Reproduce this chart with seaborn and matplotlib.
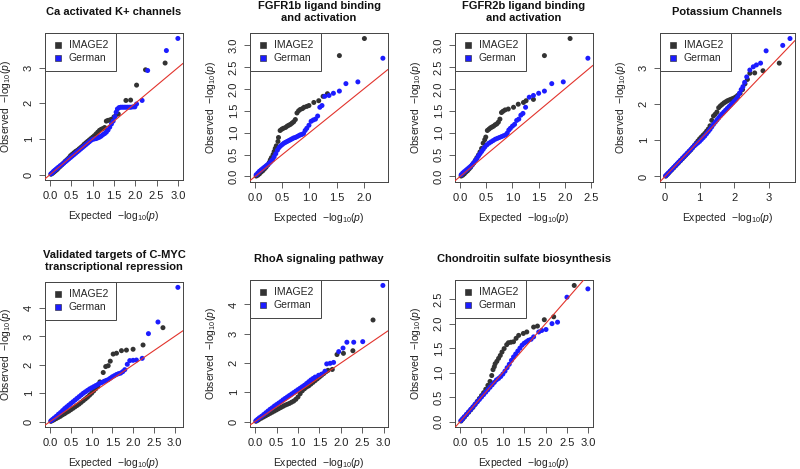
"""
QQ plots of pathway-level SNP p-values, IMAGE2 vs German cohort.
Run:
    python plot.py
"""

import numpy as np
import pandas as pd
import matplotlib
matplotlib.use("Agg")
import matplotlib.pyplot as plt
from matplotlib.lines import Line2D
import seaborn as sns

# ─────────────────────────────────────────────
#  DATA  (expected / observed -log10(p))
# ─────────────────────────────────────────────

TITLES = [
    "Ca activated K+ channels",
    "FGFR1b ligand binding\nand activation",
    "FGFR2b ligand binding\nand activation",
    "Potassium Channels",
    "Validated targets of C-MYC\ntranscriptional repression",
    "RhoA signaling pathway",
    "Chondroitin sulfate biosynthesis",
]
COHORTS = ["IMAGE2", "German"]

# Ca activated K+ channels
ca_img_x = [0.02, 0.05, 0.08, 0.11, 0.14, 0.17, 0.2, 0.24, 0.28, 0.32, 0.36, 0.4, 0.44, 0.48, 0.52, 0.56,
            0.6, 0.64, 0.68, 0.72, 0.76, 0.8, 0.84, 0.88, 0.92, 0.96, 1.0, 1.04, 1.08, 1.12, 1.16, 1.2,
            1.24, 1.28, 1.32, 1.36, 1.40, 1.44, 1.5, 1.56, 1.6, 1.78, 1.89, 2.03, 2.24, 2.70]
ca_img_y = [0.01, 0.03, 0.06, 0.09, 0.12, 0.15, 0.19, 0.23, 0.28, 0.33, 0.38, 0.42, 0.47, 0.53, 0.57, 0.61,
            0.65, 0.68, 0.72, 0.76, 0.80, 0.85, 0.89, 0.93, 0.97, 1.01, 1.05, 1.09, 1.14, 1.19, 1.24, 1.27,
            1.29, 1.32, 1.50, 1.52, 1.53, 1.55, 1.62, 1.69, 1.70, 2.08, 2.09, 2.51, 2.94, 3.13]
ca_ger_x = [0.02, 0.05, 0.08, 0.11, 0.14, 0.17, 0.2, 0.24, 0.28, 0.32, 0.36, 0.4, 0.44, 0.48, 0.52, 0.56,
            0.6, 0.64, 0.68, 0.72, 0.76, 0.8, 0.84, 0.88, 0.92, 0.96, 1.0, 1.04, 1.08, 1.12, 1.16, 1.2,
            1.24, 1.28, 1.32, 1.36, 1.40, 1.44, 1.48, 1.52, 1.55, 1.58, 1.62, 1.66, 1.70, 1.74, 1.78, 1.82,
            1.86, 1.90, 1.95, 1.99, 2.03, 2.16, 2.29, 2.73, 3.0]
ca_ger_y = [0.02, 0.05, 0.09, 0.12, 0.15, 0.18, 0.21, 0.25, 0.28, 0.32, 0.36, 0.40, 0.44, 0.48, 0.52, 0.56,
            0.60, 0.64, 0.68, 0.72, 0.76, 0.80, 0.84, 0.88, 0.92, 0.96, 0.99, 1.00, 1.01, 1.03, 1.05, 1.08,
            1.12, 1.15, 1.19, 1.25, 1.33, 1.42, 1.50, 1.62, 1.75, 1.84, 1.88, 1.89, 1.89, 1.89, 1.89, 1.89,
            1.89, 1.89, 1.90, 1.90, 1.98, 2.08, 2.92, 3.48, 3.82]

# FGFR1b ligand binding and activation
f1_img_x = [0.02, 0.05, 0.08, 0.11, 0.14, 0.17, 0.2, 0.23, 0.26, 0.28, 0.30, 0.33, 0.35, 0.37, 0.39, 0.42,
            0.43, 0.46, 0.49, 0.52, 0.56, 0.59, 0.62, 0.65, 0.68, 0.71, 0.74, 0.77, 0.80, 0.83, 0.87, 0.90,
            0.95, 0.99, 1.08, 1.17, 1.25, 1.33, 1.55, 2.01]
f1_img_y = [0.01, 0.03, 0.06, 0.10, 0.13, 0.17, 0.21, 0.26, 0.32, 0.38, 0.43, 0.50, 0.57, 0.64, 0.70, 0.80,
            0.89, 1.05, 1.08, 1.10, 1.12, 1.15, 1.17, 1.19, 1.22, 1.25, 1.30, 1.45, 1.50, 1.53, 1.55, 1.58,
            1.60, 1.62, 1.69, 1.73, 1.83, 1.89, 2.76, 3.15]
f1_ger_x = [0.02, 0.05, 0.08, 0.11, 0.14, 0.17, 0.2, 0.23, 0.26, 0.29, 0.32, 0.35, 0.38, 0.41, 0.44, 0.47,
            0.5, 0.53, 0.56, 0.59, 0.62, 0.65, 0.68, 0.71, 0.74, 0.77, 0.80, 0.83, 0.86, 0.89, 0.92, 0.95,
            0.99, 1.03, 1.07, 1.11, 1.15, 1.19, 1.23, 1.28, 1.36, 1.44, 1.55, 1.67, 1.89, 2.35]
f1_ger_y = [0.04, 0.08, 0.12, 0.15, 0.18, 0.21, 0.24, 0.27, 0.30, 0.34, 0.38, 0.45, 0.52, 0.60, 0.66, 0.70,
            0.73, 0.76, 0.78, 0.80, 0.82, 0.84, 0.86, 0.88, 0.89, 0.91, 0.93, 0.95, 0.96, 0.98, 1.05, 1.10,
            1.17, 1.26, 1.29, 1.31, 1.38, 1.58, 1.62, 1.83, 1.85, 1.90, 1.95, 2.12, 2.16, 2.70]

# FGFR2b ligand binding and activation
f2_img_x = [0.02, 0.05, 0.08, 0.11, 0.14, 0.17, 0.2, 0.23, 0.26, 0.29, 0.32, 0.35, 0.38, 0.41, 0.44, 0.47,
            0.49, 0.52, 0.55, 0.58, 0.61, 0.64, 0.67, 0.70, 0.73, 0.76, 0.79, 0.82, 0.86, 0.92, 1.02, 1.11,
            1.21, 1.26, 1.40, 1.61, 2.10]
f2_img_y = [0.01, 0.03, 0.06, 0.10, 0.13, 0.17, 0.21, 0.26, 0.31, 0.37, 0.43, 0.49, 0.56, 0.64, 0.76, 0.84,
            0.90, 1.05, 1.08, 1.11, 1.13, 1.15, 1.18, 1.20, 1.24, 1.31, 1.46, 1.49, 1.52, 1.54, 1.58, 1.65,
            1.69, 1.73, 1.76, 2.76, 3.15]
f2_ger_x = [0.02, 0.05, 0.08, 0.11, 0.14, 0.17, 0.2, 0.23, 0.26, 0.29, 0.32, 0.35, 0.38, 0.41, 0.44, 0.47,
            0.51, 0.55, 0.59, 0.63, 0.67, 0.71, 0.75, 0.79, 0.83, 0.87, 0.90, 0.93, 0.96, 1.0, 1.04, 1.08,
            1.12, 1.16, 1.20, 1.25, 1.32, 1.40, 1.50, 1.61, 1.75, 1.97, 2.44]
f2_ger_y = [0.04, 0.08, 0.11, 0.14, 0.17, 0.20, 0.23, 0.27, 0.31, 0.36, 0.41, 0.47, 0.52, 0.57, 0.62, 0.67,
            0.72, 0.76, 0.79, 0.82, 0.85, 0.87, 0.89, 0.91, 0.93, 0.95, 0.99, 1.06, 1.10, 1.15, 1.19, 1.28,
            1.31, 1.40, 1.44, 1.58, 1.81, 1.85, 1.90, 1.95, 2.12, 2.16, 2.70]

# Potassium Channels
k_img_x = [0.02, 0.06, 0.10, 0.15, 0.2, 0.25, 0.3, 0.35, 0.4, 0.45, 0.5, 0.55, 0.6, 0.65, 0.7, 0.75, 0.8,
           0.85, 0.9, 0.95, 1.0, 1.05, 1.1, 1.15, 1.2, 1.25, 1.3, 1.35, 1.4, 1.45, 1.5, 1.55, 1.6, 1.65,
           1.7, 1.75, 1.8, 1.85, 1.9, 1.95, 2.0, 2.05, 2.1, 2.17, 2.24, 2.31, 2.38, 2.45, 2.59, 2.83, 3.30]
k_img_y = [0.01, 0.05, 0.09, 0.14, 0.19, 0.24, 0.29, 0.34, 0.39, 0.44, 0.49, 0.54, 0.59, 0.64, 0.69, 0.74,
           0.80, 0.86, 0.92, 0.98, 1.04, 1.09, 1.14, 1.19, 1.25, 1.31, 1.40, 1.55, 1.67, 1.72, 1.78, 1.90,
           1.95, 1.99, 2.03, 2.06, 2.09, 2.11, 2.13, 2.15, 2.17, 2.20, 2.24, 2.30, 2.40, 2.56, 2.68, 2.85,
           2.86, 2.92, 3.13]
k_ger_x = [0.02, 0.06, 0.10, 0.15, 0.2, 0.25, 0.3, 0.35, 0.4, 0.45, 0.5, 0.55, 0.6, 0.65, 0.7, 0.75, 0.8,
           0.85, 0.9, 0.95, 1.0, 1.05, 1.1, 1.15, 1.2, 1.25, 1.3, 1.35, 1.4, 1.45, 1.5, 1.55, 1.6, 1.65,
           1.7, 1.75, 1.8, 1.85, 1.9, 1.95, 2.0, 2.05, 2.1, 2.15, 2.2, 2.25, 2.3, 2.36, 2.45, 2.55, 2.64,
           2.76, 2.92, 3.40, 3.61]
k_ger_y = [0.02, 0.06, 0.10, 0.15, 0.2, 0.25, 0.3, 0.35, 0.4, 0.45, 0.5, 0.55, 0.6, 0.65, 0.7, 0.75, 0.8,
           0.85, 0.89, 0.93, 0.97, 1.02, 1.07, 1.12, 1.18, 1.24, 1.30, 1.37, 1.44, 1.50, 1.56, 1.62, 1.68,
           1.73, 1.78, 1.83, 1.88, 1.93, 1.98, 2.03, 2.08, 2.13, 2.20, 2.30, 2.40, 2.48, 2.60, 2.75, 2.94,
           3.03, 3.08, 3.13, 3.47, 3.62, 3.81]

# Validated targets of C-MYC transcriptional repression
myc_img_x = [0.02, 0.06, 0.10, 0.15, 0.2, 0.25, 0.3, 0.35, 0.4, 0.45, 0.5, 0.55, 0.6, 0.65, 0.7, 0.75, 0.8,
             0.85, 0.9, 0.95, 1.0, 1.05, 1.1, 1.15, 1.2, 1.28, 1.34, 1.40, 1.45, 1.52, 1.60, 1.72, 1.84,
             2.00, 2.24, 2.72]
myc_img_y = [0.01, 0.04, 0.07, 0.11, 0.15, 0.19, 0.24, 0.28, 0.33, 0.37, 0.42, 0.47, 0.52, 0.57, 0.62, 0.68,
             0.74, 0.80, 0.86, 0.93, 1.00, 1.08, 1.16, 1.24, 1.40, 1.73, 1.94, 1.97, 2.13, 2.38, 2.41, 2.50,
             2.52, 2.55, 2.70, 3.31]
myc_ger_x = [0.02, 0.06, 0.10, 0.15, 0.2, 0.25, 0.3, 0.35, 0.4, 0.45, 0.5, 0.55, 0.6, 0.65, 0.7, 0.75, 0.8,
             0.85, 0.9, 0.95, 1.0, 1.05, 1.1, 1.15, 1.2, 1.25, 1.3, 1.35, 1.4, 1.45, 1.5, 1.55, 1.6, 1.65,
             1.7, 1.75, 1.8, 1.86, 1.92, 2.0, 2.08, 2.22, 2.37, 2.60, 3.08]
myc_ger_y = [0.03, 0.08, 0.13, 0.19, 0.26, 0.32, 0.39, 0.46, 0.52, 0.58, 0.64, 0.70, 0.76, 0.82, 0.88, 0.94,
             1.00, 1.05, 1.10, 1.15, 1.19, 1.23, 1.27, 1.31, 1.35, 1.38, 1.42, 1.45, 1.48, 1.53, 1.58, 1.62,
             1.66, 1.69, 1.71, 1.76, 1.83, 2.02, 2.15, 2.16, 2.17, 2.23, 3.10, 3.51, 4.73]

# RhoA signaling pathway
rho_img_x = [0.02, 0.06, 0.10, 0.15, 0.2, 0.25, 0.3, 0.35, 0.4, 0.45, 0.5, 0.55, 0.6, 0.65, 0.7, 0.75, 0.8,
             0.85, 0.9, 0.95, 1.0, 1.05, 1.1, 1.15, 1.2, 1.25, 1.3, 1.35, 1.4, 1.45, 1.5, 1.55, 1.6, 1.65,
             1.70, 1.80, 1.91, 2.06, 2.28, 2.75]
rho_img_y = [0.01, 0.04, 0.08, 0.12, 0.16, 0.20, 0.24, 0.28, 0.32, 0.36, 0.40, 0.44, 0.48, 0.52, 0.56, 0.59,
             0.62, 0.66, 0.70, 0.76, 0.84, 0.95, 1.05, 1.12, 1.18, 1.22, 1.28, 1.34, 1.40, 1.46, 1.52, 1.58,
             1.64, 1.70, 1.75, 1.78, 2.29, 2.33, 2.42, 3.47]
rho_ger_x = [0.02, 0.06, 0.10, 0.15, 0.2, 0.25, 0.3, 0.35, 0.4, 0.45, 0.5, 0.55, 0.6, 0.65, 0.7, 0.75, 0.8,
             0.85, 0.9, 0.95, 1.0, 1.05, 1.1, 1.15, 1.2, 1.25, 1.3, 1.35, 1.40, 1.48, 1.55, 1.63, 1.67, 1.75,
             1.83, 1.95, 2.05, 2.14, 2.30, 2.51, 2.98]
rho_ger_y = [0.03, 0.08, 0.13, 0.18, 0.24, 0.30, 0.36, 0.42, 0.47, 0.53, 0.58, 0.63, 0.68, 0.74, 0.79, 0.84,
             0.89, 0.94, 0.99, 1.04, 1.09, 1.14, 1.19, 1.24, 1.30, 1.36, 1.42, 1.47, 1.52, 1.58, 1.62, 1.72,
             1.97, 1.99, 2.02, 2.39, 2.51, 2.71, 2.71, 2.73, 4.65]

# Chondroitin sulfate biosynthesis
cs_img_x = [0.02, 0.06, 0.10, 0.15, 0.2, 0.25, 0.3, 0.35, 0.4, 0.45, 0.5, 0.55, 0.6, 0.65, 0.70, 0.74, 0.77,
            0.80, 0.82, 0.86, 0.90, 0.94, 0.98, 1.03, 1.09, 1.13, 1.19, 1.25, 1.31, 1.37, 1.48, 1.56, 1.72,
            1.81, 1.97, 2.19, 2.67]
cs_img_y = [0.01, 0.05, 0.09, 0.14, 0.19, 0.24, 0.29, 0.35, 0.41, 0.47, 0.53, 0.59, 0.66, 0.74, 0.82, 0.94,
            1.06, 1.12, 1.18, 1.23, 1.29, 1.35, 1.42, 1.49, 1.57, 1.61, 1.62, 1.63, 1.70, 1.76, 1.80, 1.83,
            1.93, 1.95, 2.08, 2.14, 2.78]
cs_ger_x = [0.02, 0.06, 0.10, 0.15, 0.2, 0.25, 0.3, 0.35, 0.4, 0.45, 0.5, 0.55, 0.6, 0.65, 0.7, 0.75, 0.8,
            0.85, 0.9, 0.95, 1.0, 1.05, 1.1, 1.15, 1.2, 1.25, 1.3, 1.35, 1.4, 1.45, 1.5, 1.55, 1.6, 1.66,
            1.72, 1.84, 1.91, 2.01, 2.15, 2.28, 2.50, 2.99]
cs_ger_y = [0.02, 0.06, 0.10, 0.15, 0.2, 0.25, 0.3, 0.35, 0.4, 0.45, 0.50, 0.55, 0.60, 0.65, 0.70, 0.75,
            0.80, 0.85, 0.88, 0.92, 0.97, 1.03, 1.10, 1.17, 1.25, 1.32, 1.38, 1.44, 1.50, 1.56, 1.60, 1.63,
            1.66, 1.68, 1.73, 1.83, 1.86, 1.88, 2.00, 2.03, 2.54, 2.71]

# tick marks per panel
X_TICKS = [
    [0.0, 0.5, 1.0, 1.5, 2.0, 2.5, 3.0],
    [0.0, 0.5, 1.0, 1.5, 2.0],
    [0.0, 0.5, 1.0, 1.5, 2.0, 2.5],
    [0, 1, 2, 3],
    [0.0, 0.5, 1.0, 1.5, 2.0, 2.5, 3.0],
    [0.0, 0.5, 1.0, 1.5, 2.0, 2.5, 3.0],
    [0.0, 0.5, 1.0, 1.5, 2.0, 2.5, 3.0],
]
Y_TICKS = [
    [0, 1, 2, 3],
    [0.0, 0.5, 1.0, 1.5, 2.0, 2.5, 3.0],
    [0.0, 0.5, 1.0, 1.5, 2.0, 2.5, 3.0],
    [0, 1, 2, 3],
    [0, 1, 2, 3, 4],
    [0, 1, 2, 3, 4],
    [0.0, 0.5, 1.0, 1.5, 2.0, 2.5],
]

SERIES = [
    (ca_img_x, ca_img_y, ca_ger_x, ca_ger_y),
    (f1_img_x, f1_img_y, f1_ger_x, f1_ger_y),
    (f2_img_x, f2_img_y, f2_ger_x, f2_ger_y),
    (k_img_x, k_img_y, k_ger_x, k_ger_y),
    (myc_img_x, myc_img_y, myc_ger_x, myc_ger_y),
    (rho_img_x, rho_img_y, rho_ger_x, rho_ger_y),
    (cs_img_x, cs_img_y, cs_ger_x, cs_ger_y),
]

# ─────────────────────────────────────────────
#  STYLE / LAYOUT
# ─────────────────────────────────────────────

W, H = 800, 469
# plot boxes in pixels: left, right, top, bottom
BOXES = [
    (45, 183, 33, 180), (250, 388, 33, 182), (455, 593, 33, 182), (660, 795, 33, 182),
    (45, 183, 282, 427), (250, 388, 280, 427), (455, 593, 280, 427),
]
PALETTE = {"IMAGE2": "#333333", "German": "#1c1cff"}
LINE_RED = "#e2332c"

sns.set_style("white")
plt.rcParams["font.family"] = ["Liberation Sans", "DejaVu Sans"]
plt.rcParams["mathtext.fontset"] = "custom"
plt.rcParams["mathtext.rm"] = "Liberation Sans"
plt.rcParams["mathtext.it"] = "Liberation Sans:italic"


def fmt_tick(v, ticks):
    if all(float(t).is_integer() for t in ticks):
        return f"{int(v)}"
    return f"{v:.1f}"


def draw_panel(fig, box, title, data, xticks, yticks):
    left, right, top, bottom = box
    ax = fig.add_axes([left / W, 1 - bottom / H, (right - left) / W, (bottom - top) / H])

    img_x, img_y, ger_x, ger_y = data
    df = pd.DataFrame({
        "expected": list(img_x) + list(ger_x),
        "observed": list(img_y) + list(ger_y),
        "cohort": ["IMAGE2"] * len(img_x) + ["German"] * len(ger_x),
    })
    sns.scatterplot(
        data=df, x="expected", y="observed", hue="cohort", hue_order=COHORTS,
        palette=PALETTE, s=13, linewidth=0, legend=False, ax=ax, zorder=2,
    )
    ax.margins(x=0.04, y=0.04)
    ax.axline((0, 0), slope=1, color=LINE_RED, lw=0.8, zorder=3)

    ax.set_xticks(xticks)
    ax.set_xticklabels([fmt_tick(t, xticks) for t in xticks])
    ax.set_yticks(yticks)
    ax.set_yticklabels([fmt_tick(t, yticks) for t in yticks], rotation=90, va="center")
    ax.tick_params(axis="both", direction="out", length=4.5, width=0.6, color="#444444",
                   labelsize=8, labelcolor="#222222", pad=3.5, bottom=True, left=True)
    for sp in ax.spines.values():
        sp.set_visible(True)
        sp.set_color("#444444")
        sp.set_linewidth(0.7)

    ax.set_xlabel(r"Expected  $-\mathrm{log}_{10}(\mathit{p})$", fontsize=7.5, color="#222222", labelpad=6)
    ax.set_ylabel(r"Observed  $-\mathrm{log}_{10}(\mathit{p})$", fontsize=7.5, color="#222222", labelpad=8)

    ax.text(0.5, 1 + 21 / (bottom - top), title, transform=ax.transAxes, ha="center", va="center",
            fontsize=8, fontweight="bold", color="#111111", linespacing=1.25)

    handles = [Line2D([0], [0], marker="s", linestyle="none", markersize=5,
                      markerfacecolor=PALETTE[c], markeredgecolor="#222222", markeredgewidth=0.4)
               for c in COHORTS]
    leg = ax.legend(handles, COHORTS, loc="upper left", borderaxespad=0, fancybox=False,
                    framealpha=1, edgecolor="#444444", fontsize=7.5, handlelength=1.0,
                    handletextpad=0.6, borderpad=0.7, labelspacing=0.3)
    leg.get_frame().set_linewidth(0.7)
    return ax


fig = plt.figure(figsize=(W / 100, H / 100), dpi=100)
for i in range(len(TITLES)):
    draw_panel(fig, BOXES[i], TITLES[i], SERIES[i], X_TICKS[i], Y_TICKS[i])

fig.savefig("out.png", dpi=100, facecolor="white")
